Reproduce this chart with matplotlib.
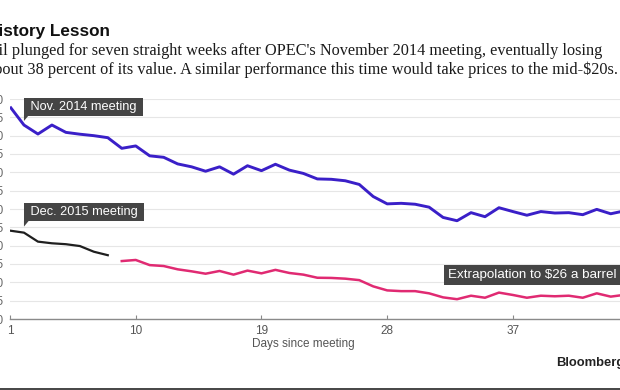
import matplotlib
matplotlib.use("Agg")
import matplotlib.pyplot as plt
from matplotlib.patches import Rectangle, Polygon
from matplotlib.transforms import IdentityTransform

# ---------------- data ----------------
days_2014 = list(range(1, 46))
brent_2014 = [77.9, 72.9, 70.45, 72.9, 70.9, 70.4, 70.0, 69.45, 66.55, 67.2,
              64.5, 64.1, 62.3, 61.5, 60.3, 61.5, 59.5, 61.8, 60.45, 62.2,
              60.6, 59.7, 58.2, 58.1, 57.7, 56.7, 53.4, 51.4, 51.55, 51.3,
              50.5, 47.7, 46.8, 49.0, 47.9, 50.35, 49.3, 48.3, 49.3, 48.9,
              49.0, 48.45, 49.9, 48.7, 49.5]

days_2015 = list(range(1, 9))
brent_2015 = [44.1, 43.55, 41.1, 40.65, 40.4, 39.9, 38.35, 37.4]

days_extrap = list(range(9, 46))
brent_extrap = [35.8, 36.1, 34.7, 34.45, 33.55, 33.0, 32.35, 33.1, 32.1, 33.2,
                32.45, 33.4, 32.55, 32.1, 31.25, 31.2, 31.0, 30.6, 28.9, 27.8,
                27.6, 27.6, 27.0, 25.9, 25.4, 26.35, 25.8, 27.2, 26.55, 25.8,
                26.35, 26.2, 26.35, 25.8, 27.0, 26.1, 26.6]

x_ticks = [1, 10, 19, 28, 37, 46]
y_ticks = list(range(20, 81, 5))

title = "History Lesson"
line1 = "Oil plunged for seven straight weeks after OPEC's November 2014 meeting, eventually losing"
line2 = "about 38 percent of its value. A similar performance this time would take prices to the mid-$20s."

# ---------------- layout ----------------
W, H = 620, 390
fig = plt.figure(figsize=(6.2, 3.9), dpi=100)
fig.patch.set_facecolor("white")


def fx(px):
    return px / W


def fy(py):
    return 1 - py / H


px_per_day = 13.97
ax = fig.add_axes([fx(10), fy(319), 45 * px_per_day / W, 220 / H])
ax.set_xlim(1, 46)
ax.set_ylim(20, 80)

SANS = ["Liberation Sans", "DejaVu Sans"]
SERIF = ["Liberation Serif", "DejaVu Serif"]

for s in ("top", "right", "left"):
    ax.spines[s].set_visible(False)
ax.spines["bottom"].set_color("#8a8a8a")
ax.spines["bottom"].set_linewidth(1.0)

ax.set_yticks(y_ticks)
ax.set_xticks(x_ticks)
ax.yaxis.grid(True, color="#e6e6e6", linewidth=0.8)
ax.set_axisbelow(True)
ax.tick_params(axis="y", length=0, pad=4.3, labelsize=8.5, labelcolor="#666666")
ax.tick_params(axis="x", direction="in", length=3, width=0.8, color="#888888",
               pad=4, labelsize=8.5, labelcolor="#555555")
for lab in ax.get_xticklabels() + ax.get_yticklabels():
    lab.set_family(SANS)

# lines
ax.plot(days_2014, brent_2014, color="#3a1fc8", lw=2.1, solid_joinstyle="round",
        solid_capstyle="butt", zorder=3)
ax.plot(days_2015, brent_2015, color="#1f1f1f", lw=1.6, solid_joinstyle="round", zorder=3)
ax.plot(days_extrap, brent_extrap, color="#e02a72", lw=1.8, solid_joinstyle="round", zorder=3)

# labels in dark boxes
BOX = "#454545"
t_nov = ax.text(2.2, 77.9, " Nov. 2014 meeting ", ha="left", va="center", fontsize=9.2,
                color="white", family=SANS, zorder=5,
                bbox=dict(boxstyle="square,pad=0.22", fc=BOX, ec="none"))
t_dec = ax.text(2.2, 49.1, " Dec. 2015 meeting ", ha="left", va="center", fontsize=9.2,
                color="white", family=SANS, zorder=5,
                bbox=dict(boxstyle="square,pad=0.22", fc=BOX, ec="none"))
t_ext = ax.text(32.36, 32.0, "Extrapolation to $26 a barrel     ", ha="left", va="center",
                fontsize=9.6, color="white", family=SANS, zorder=5, clip_on=False,
                bbox=dict(boxstyle="square,pad=0.33", fc=BOX, ec="none"))

# x label
fig.text(fx(303), fy(344), "Days since meeting", ha="center", va="center",
         fontsize=8.5, color="#555555", family=SANS)

# title
fig.text(fx(110), fy(36), title, ha="right", va="baseline", fontsize=12.3,
         fontweight="bold", color="#111111", family=SANS)

# subtitle fit (left part is cropped like in the reference)
fig.canvas.draw()
r = fig.canvas.get_renderer()
probe = fig.text(0, 0.5, line1, fontsize=10, family=SERIF)
w_full = probe.get_window_extent(r).width
probe.set_text("Oi")
w_oi = probe.get_window_extent(r).width
probe.remove()
fs = 10 * 596 / (w_full - w_oi)
x0 = 3 - w_oi * fs / 10
for txt, base in ((line1, 55), (line2, 74)):
    fig.text(fx(x0), fy(base), txt, ha="left", va="baseline", fontsize=fs,
             color="#1a1a1a", family=SERIF)

# Bloomberg footer
fig.text(fx(556), fy(363), "Bloomberg", ha="left", va="center", fontsize=9.4,
         fontweight="bold", color="#222222", family=SANS)

# bottom dark border
fig.patches.append(Rectangle((0, 0), 1, 2.5 / H, transform=fig.transFigure,
                             facecolor="#4a4a4a", edgecolor="none"))

# pointers under the meeting labels
fig.canvas.draw()
for t in (t_nov, t_dec):
    bb = t.get_bbox_patch().get_window_extent(r)
    x_l, y_b = bb.x0, bb.y0
    tri = Polygon([(x_l, y_b + 0.5), (x_l, y_b - 5.5), (x_l + 5, y_b + 0.5)],
                  closed=True, facecolor=BOX, edgecolor="none",
                  transform=IdentityTransform(), zorder=5)
    fig.patches.append(tri)

fig.savefig("out.png", dpi=100)
